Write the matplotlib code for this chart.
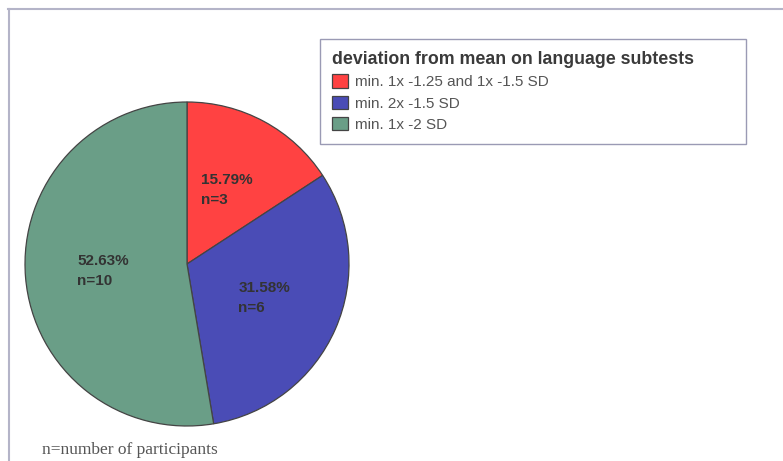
import matplotlib.pyplot as plt
from matplotlib.lines import Line2D

groups = ["min. 1x -1.25 and 1x -1.5 SD", "min. 2x -1.5 SD", "min. 1x -2 SD"]
counts = [3, 6, 10]
colors = ["#FF4242", "#4A4CB6", "#6A9E87"]
legend_title = "deviation from mean on language subtests"
footnote = "n=number of participants"

plt.rcParams['font.family'] = ['Liberation Sans', 'DejaVu Sans']

W, H = 783, 461
fig = plt.figure(figsize=(W / 100, H / 100), dpi=100)
ax = fig.add_axes([0, 0, 1, 1])

total = sum(counts)


def fmt(pct):
    n = int(round(pct * total / 100))
    return "%.2f%%\nn=%d" % (pct, n)


# pie in pixel-like data coords, y measured from bottom
wedges, texts, autotexts = ax.pie(
    counts, colors=colors, startangle=90, counterclock=False,
    center=(187, H - 264), radius=162, frame=True,
    autopct=fmt, pctdistance=0.52,
    wedgeprops=dict(edgecolor="#444444", linewidth=0.9),
    textprops=dict(fontsize=11, fontweight="bold", color="#333333"))
for t in autotexts:
    t.set_multialignment("left")
    t.set_linespacing(1.6)

ax.set_xlim(0, W)
ax.set_ylim(0, H)
ax.set_aspect("equal")
ax.axis("off")

leg = ax.legend(wedges, groups, title=legend_title,
                loc="upper left",
                bbox_to_anchor=(320 / W, 1 - 140 / H, (746 - 320) / W, (140 - 39) / H),
                bbox_transform=fig.transFigure, mode="expand", borderaxespad=0,
                fancybox=False, shadow=False, framealpha=1,
                edgecolor="#9a9ab4", fontsize=11,
                handlelength=1.0, handleheight=1.0, handletextpad=0.5,
                labelspacing=0.4, borderpad=0.8, alignment="left",
                title_fontproperties=dict(weight="bold", size=12.8))
leg.get_frame().set_linewidth(1.0)
for t in leg.get_texts():
    t.set_color("#555555")
leg.get_title().set_color("#3a3a3a")

# outer frame lines (top and left only)
fig.add_artist(Line2D([8 / W, 1], [1 - 9 / H, 1 - 9 / H], color="#b4b4c8", lw=1.5))
fig.add_artist(Line2D([9 / W, 9 / W], [0, 1 - 9 / H], color="#b4b4c8", lw=1.5))

fig.text(42 / W, 1 - 450 / H, footnote, fontsize=12.5, color="#555555",
         family=["Liberation Serif", "DejaVu Serif"], va="center")

fig.savefig("out.png", dpi=100, facecolor="white")
